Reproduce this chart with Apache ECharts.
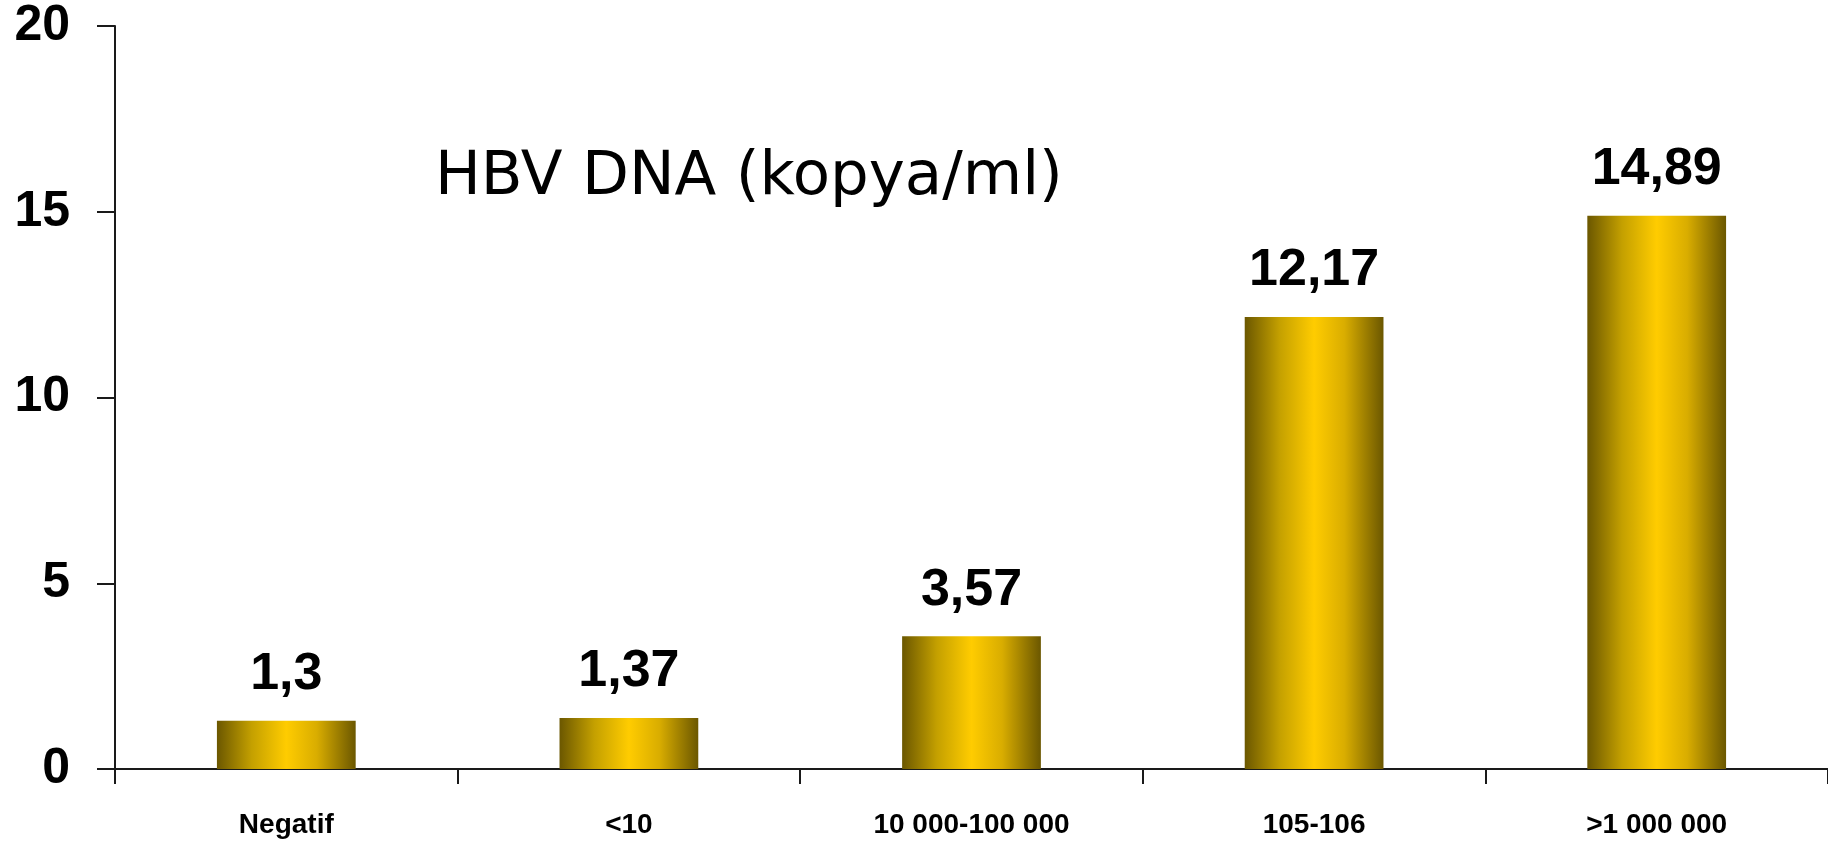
<!DOCTYPE html>
<html>
<head>
<meta charset="utf-8">
<style>
  html, body { margin: 0; padding: 0; background: #ffffff; }
  #chart { width: 1828px; height: 844px; }
</style>
<script src="https://cdn.jsdelivr.net/npm/echarts@6/dist/echarts.min.js"></script>
</head>
<body>
<div id="chart"></div>
<script>
// HBV DNA level groups and their values
const categories = ['Negatif', '<10', '10 000-100 000', '105-106', '>1 000 000'];
const values = [1.3, 1.37, 3.57, 12.17, 14.89];
const yTicks = { min: 0, max: 20, interval: 5 };
const titleText = 'HBV DNA (kopya/ml)';

// golden cylinder-like shading across each bar
const barFill = new echarts.graphic.LinearGradient(0, 0, 1, 0, [
  { offset: 0, color: '#6b5700' },
  { offset: 0.25, color: '#c4a000' },
  { offset: 0.5, color: '#ffcc00' },
  { offset: 0.72, color: '#d9ad00' },
  { offset: 1, color: '#6b5700' }
]);

const chart = echarts.init(document.getElementById('chart'));
chart.setOption({
  backgroundColor: '#ffffff',
  animation: false,
  title: {
    text: titleText,
    left: 430,
    top: 143,
    textStyle: {
      fontFamily: '"Comic Sans MS", "DejaVu Sans", sans-serif',
      fontWeight: 'normal',
      fontSize: 61,
      color: '#000000'
    }
  },
  grid: { left: 115, right: 0, top: 26, bottom: 75, containLabel: false },
  xAxis: {
    type: 'category',
    data: categories,
    boundaryGap: true,
    axisLine: { show: true, lineStyle: { color: '#1a1a1a', width: 2 } },
    axisTick: { show: true, length: 15, lineStyle: { color: '#1a1a1a', width: 2 } },
    axisLabel: {
      margin: 42,
      fontFamily: '"Liberation Sans", Arial, sans-serif',
      fontWeight: 'bold',
      fontSize: 28,
      color: '#000000'
    }
  },
  yAxis: {
    type: 'value',
    min: yTicks.min,
    max: yTicks.max,
    interval: yTicks.interval,
    axisLine: { show: true, lineStyle: { color: '#1a1a1a', width: 2 } },
    axisTick: { show: true, length: 18, lineStyle: { color: '#1a1a1a', width: 2 } },
    splitLine: { show: false },
    axisLabel: {
      margin: 45,
      fontFamily: '"Liberation Sans", Arial, sans-serif',
      fontWeight: 'bold',
      fontSize: 50,
      color: '#000000'
    }
  },
  series: [{
    type: 'bar',
    data: values,
    barWidth: '40.5%',
    itemStyle: { color: barFill },
    label: {
      show: true,
      position: 'top',
      distance: 20,
      fontFamily: '"Liberation Sans", Arial, sans-serif',
      fontWeight: 'bold',
      fontSize: 52,
      color: '#000000',
      formatter: p => String(p.value).replace('.', ',')
    }
  }]
});
</script>
</body>
</html>
